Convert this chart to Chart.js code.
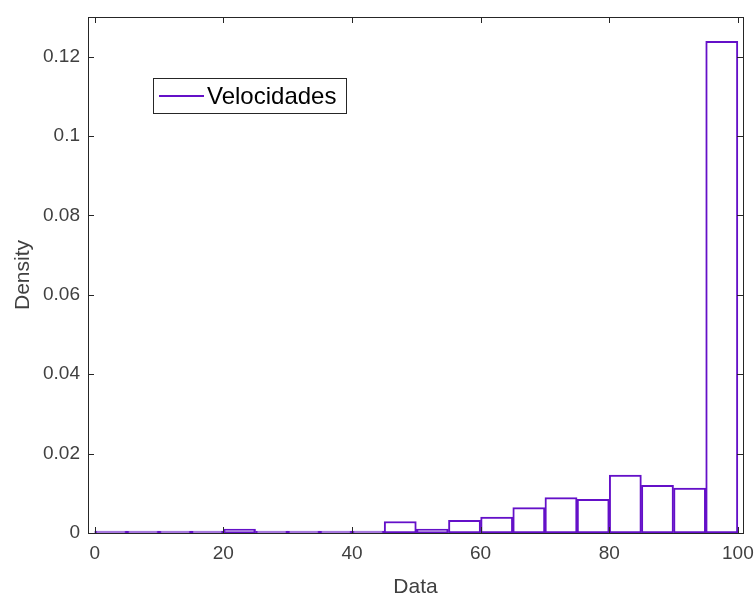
<!DOCTYPE html>
<html>
<head>
<meta charset="utf-8">
<script src="https://cdn.jsdelivr.net/npm/chart.js@4/dist/chart.umd.min.js"></script>
<style>
  body { margin: 0; background: #fff; }
  #wrap { width: 756px; height: 593px; }
</style>
</head>
<body>
<div id="wrap"><canvas id="myChart"></canvas></div>
<script>
// bin centres (width 5) and density per bin
const binCenters = [2.5, 7.5, 12.5, 17.5, 22.5, 27.5, 32.5, 37.5, 42.5, 47.5,
                    52.5, 57.5, 62.5, 67.5, 72.5, 77.5, 82.5, 87.5, 92.5, 97.5];
const density = [0.0001, 0.0001, 0.00005, 0.0001, 0.001, 0.00003, 0.0001, 0.00015, 0.0002, 0.0029,
                 0.001, 0.0032, 0.004, 0.0064, 0.0089, 0.0085, 0.0146, 0.012, 0.0113, 0.1239];
const xTicks = [0, 20, 40, 60, 80, 100];
const yTicks = [0, 0.02, 0.04, 0.06, 0.08, 0.1, 0.12];
const seriesName = 'Velocidades';

const purple = '#6410c8';
const axisColor = '#262626';
const font = 'Liberation Sans, Arial, sans-serif';

// MATLAB-style box with inward ticks and the legend
const boxPlugin = {
  id: 'box',
  afterDraw(chart) {
    const ctx = chart.ctx;
    const a = chart.chartArea;
    const xs = chart.scales.x, ys = chart.scales.y;
    ctx.save();
    ctx.strokeStyle = axisColor;
    ctx.lineWidth = 1;
    ctx.strokeRect(a.left + 0.5, a.top + 0.5, a.right - a.left, a.bottom - a.top);
    ctx.beginPath();
    xs.ticks.forEach(t => {
      const px = Math.round(xs.getPixelForValue(t.value)) + 0.5;
      ctx.moveTo(px, a.bottom); ctx.lineTo(px, a.bottom - 6);
      ctx.moveTo(px, a.top); ctx.lineTo(px, a.top + 6);
    });
    ys.ticks.forEach(t => {
      const py = Math.round(ys.getPixelForValue(t.value)) + 0.5;
      ctx.moveTo(a.left, py); ctx.lineTo(a.left + 6, py);
      ctx.moveTo(a.right, py); ctx.lineTo(a.right - 6, py);
    });
    ctx.stroke();

    // legend
    const lx = 153, ly = 78, lw = 193, lh = 35;
    ctx.fillStyle = '#fff';
    ctx.fillRect(lx, ly, lw, lh);
    ctx.strokeStyle = axisColor;
    ctx.strokeRect(lx + 0.5, ly + 0.5, lw, lh);
    ctx.strokeStyle = purple;
    ctx.lineWidth = 2;
    ctx.beginPath();
    ctx.moveTo(lx + 6, ly + 18); ctx.lineTo(lx + 51, ly + 18);
    ctx.stroke();
    ctx.fillStyle = '#000';
    ctx.font = '24px ' + font;
    ctx.textBaseline = 'middle';
    ctx.fillText(chart.data.datasets[0].label, lx + 54, ly + 19);
    ctx.restore();
  }
};

let myChart = document.getElementById('myChart');

new Chart(myChart, {
  type: 'bar',
  data: {
    datasets: [{
      label: seriesName,
      data: binCenters.map((c, i) => ({ x: c, y: density[i] })),
      backgroundColor: '#ffffff',
      borderColor: purple,
      borderWidth: 2,
      borderSkipped: false,
      minBarLength: 2,
      barPercentage: 1,
      categoryPercentage: 1
    }]
  },
  options: {
    responsive: true,
    maintainAspectRatio: false,
    animation: false,
    layout: { padding: { top: 17, right: 13, left: 0, bottom: 0 } },
    plugins: { legend: { display: false }, tooltip: { enabled: false } },
    scales: {
      x: {
        type: 'linear',
        offset: false,
        min: -1.05,
        max: 100.8,
        afterBuildTicks: s => { s.ticks = xTicks.map(v => ({ value: v })); },
        afterFit: s => { s.height = 60; s.paddingLeft = 0; s.paddingRight = 0; },
        grid: { display: false, drawTicks: false },
        border: { display: false },
        ticks: { color: '#404040', font: { family: font, size: 19 }, padding: 9, maxRotation: 0 },
        title: { display: true, text: 'Data', color: '#404040', font: { family: font, size: 21 }, padding: { top: 0, bottom: -7 } }
      },
      y: {
        min: 0,
        max: 0.13,
        afterBuildTicks: s => { s.ticks = yTicks.map(v => ({ value: v })); },
        afterFit: s => { s.width = 88; s.paddingTop = 0; s.paddingBottom = 0; },
        grid: { display: false, drawTicks: false },
        border: { display: false },
        ticks: { color: '#404040', font: { family: font, size: 19 }, padding: 8,
                 callback: v => String(+v.toFixed(4)) },
        title: { display: true, text: 'Density', color: '#404040', font: { family: font, size: 21 }, padding: { top: 11, bottom: 0 } }
      }
    }
  },
  plugins: [boxPlugin]
});
</script>
</body>
</html>
